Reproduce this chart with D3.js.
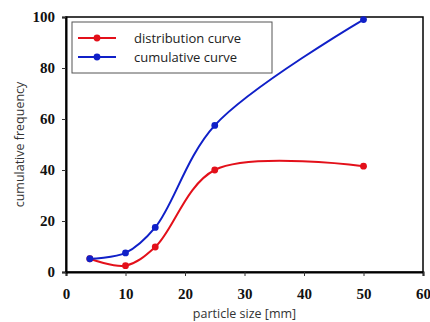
<!DOCTYPE html>
<html>
<head>
<meta charset="utf-8">
<script src="https://cdn.jsdelivr.net/npm/d3@7"></script>
<style>
  body { margin: 0; background: #fff; }
</style>
</head>
<body>
<script>
// particle sizes and the two curves
var sizes = [4, 10, 15, 25, 50];
var distribution = [5.2, 2.5, 9.8, 40, 41.5];
var cumulative = [5.2, 7.5, 17.5, 57.5, 99];
var xTicks = [0, 10, 20, 30, 40, 50, 60];
var yTicks = [0, 20, 40, 60, 80, 100];
var seriesNames = ['distribution curve', 'cumulative curve'];
var seriesColors = ['#e3101a', '#1020c8'];

var width = 430, height = 322;
var L = 66, R = 423, T = 17, B = 272;

var svg = d3.select('body').append('svg')
  .attr('width', width).attr('height', height);

var x = d3.scaleLinear().domain([0, 60]).range([L, R]);
var y = d3.scaleLinear().domain([0, 100]).range([B, T]);

// frame
svg.append('rect')
  .attr('x', L).attr('y', T).attr('width', R - L).attr('height', B - T)
  .attr('fill', 'none').attr('stroke', '#000').attr('stroke-width', 1.5);

// axes
var xAxis = svg.append('g').attr('transform', 'translate(0,' + B + ')')
  .call(d3.axisBottom(x).tickValues(xTicks).tickSize(4).tickPadding(12));
var yAxis = svg.append('g').attr('transform', 'translate(' + L + ',0)')
  .call(d3.axisLeft(y).tickValues(yTicks).tickSize(4).tickPadding(7));

[xAxis, yAxis].forEach(function(a) {
  a.select('.domain').attr('stroke', '#000').attr('stroke-width', 2);
  a.selectAll('.tick line').attr('stroke', '#333');
  a.selectAll('.tick text')
    .style('font-family', '"Liberation Serif", serif')
    .style('font-weight', 'bold')
    .style('font-size', '15px')
    .attr('fill', '#111');
});

// axis titles
svg.append('text')
  .attr('x', (L + R) / 2).attr('y', 318)
  .attr('text-anchor', 'middle')
  .style('font-family', '"Open Sans", sans-serif')
  .style('font-size', '12.5px')
  .attr('fill', '#333')
  .text('particle size [mm]');

svg.append('text')
  .attr('transform', 'translate(24,' + ((T + B) / 2) + ') rotate(-90)')
  .attr('text-anchor', 'middle')
  .style('font-family', '"Open Sans", sans-serif')
  .style('font-size', '12.5px')
  .attr('fill', '#333')
  .text('cumulative frequency');

// curves
var line = d3.line()
  .x(function(d) { return x(d[0]); })
  .y(function(d) { return y(d[1]); })
  .curve(d3.curveCatmullRom.alpha(0.5));

[distribution, cumulative].forEach(function(vals, k) {
  var pts = sizes.map(function(s, i) { return [s, vals[i]]; });
  svg.append('path')
    .attr('d', line(pts))
    .attr('fill', 'none')
    .attr('stroke', seriesColors[k])
    .attr('stroke-width', 2);
  svg.selectAll('.dot' + k).data(pts).enter().append('circle')
    .attr('cx', function(d) { return x(d[0]); })
    .attr('cy', function(d) { return y(d[1]); })
    .attr('r', 3.4)
    .attr('fill', seriesColors[k]);
});

// legend
var lg = svg.append('g');
lg.append('rect')
  .attr('x', 72).attr('y', 22).attr('width', 200).attr('height', 51)
  .attr('fill', '#fff').attr('stroke', '#555').attr('stroke-width', 1);
seriesNames.forEach(function(name, k) {
  var ly = 38 + k * 19;
  lg.append('line')
    .attr('x1', 78).attr('x2', 116).attr('y1', ly).attr('y2', ly)
    .attr('stroke', seriesColors[k]).attr('stroke-width', 2);
  lg.append('circle').attr('cx', 97).attr('cy', ly).attr('r', 3.4)
    .attr('fill', seriesColors[k]);
  lg.append('text')
    .attr('x', 134).attr('y', ly + 4.5)
    .style('font-family', '"Open Sans", sans-serif')
    .style('font-size', '13px')
    .attr('fill', '#222')
    .text(name);
});
</script>
</body>
</html>
